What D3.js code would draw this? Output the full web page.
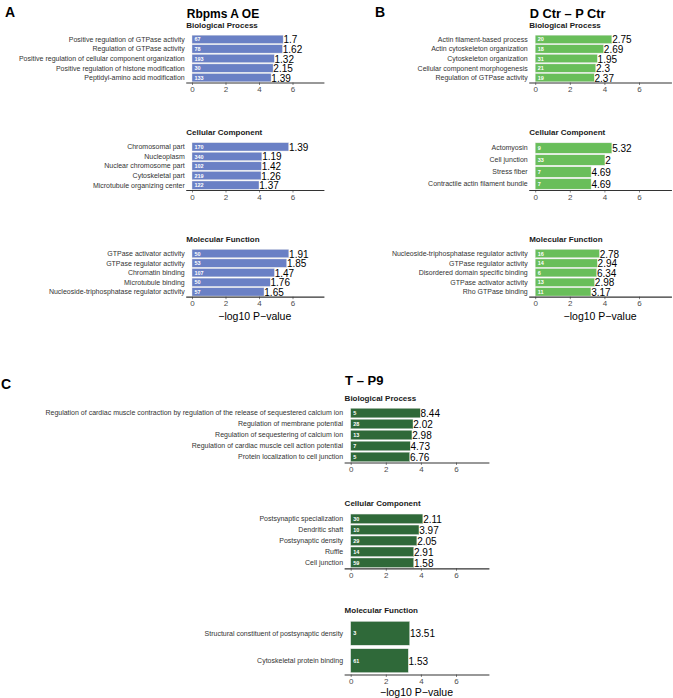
<!DOCTYPE html>
<html><head><meta charset="utf-8">
<script src="https://cdn.jsdelivr.net/npm/d3@7"></script>
<style>
body{margin:0;background:#fff}
svg{display:block;font-family:"Liberation Sans",Arial,Helvetica,sans-serif}
</style>
</head><body><svg id="chart" width="673" height="698"></svg>
<script>
// ---------------- data ----------------
const sectionNames = ["Biological Process", "Cellular Component", "Molecular Function"];
const xTicks = [0, 2, 4, 6];
const xDomain = [-0.375, 7.875];
const axisTitle = "\u2212log10 P\u2212value";

// Panel A: Rbpms A OE
const aBPTerms = ["Positive regulation of GTPase activity", "Regulation of GTPase activity", "Positive regulation of cellular component organization", "Positive regulation of histone modification", "Peptidyl-amino acid modification"];
const aBPCounts = [67, 78, 193, 30, 133];
const aBPLogP = [5.44, 5.40, 4.91, 4.84, 4.72];
const aBPFold = ["1.7", "1.62", "1.32", "2.15", "1.39"];

const aCCTerms = ["Chromosomal part", "Nucleoplasm", "Nuclear chromosome part", "Cytoskeletal part", "Microtubule organizing center"];
const aCCCounts = [170, 340, 102, 219, 122];
const aCCLogP = [5.77, 4.17, 4.14, 4.12, 4.00];
const aCCFold = ["1.39", "1.19", "1.42", "1.26", "1.37"];

const aMFTerms = ["GTPase activator activity", "GTPase regulator activity", "Chromatin binding", "Microtubule binding", "Nucleoside-triphosphatase regulator activity"];
const aMFCounts = [50, 53, 107, 50, 57];
const aMFLogP = [5.78, 5.65, 4.92, 4.67, 4.30];
const aMFFold = ["1.91", "1.85", "1.47", "1.76", "1.65"];

// Panel B: D Ctr – P Ctr
const bBPTerms = ["Actin filament-based process", "Actin cytoskeleton organization", "Cytoskeleton organization", "Cellular component morphogenesis", "Regulation of GTPase activity"];
const bBPCounts = [20, 18, 31, 21, 19];
const bBPLogP = [4.43, 3.95, 3.59, 3.50, 3.41];
const bBPFold = ["2.75", "2.69", "1.95", "2.3", "2.37"];

const bCCTerms = ["Actomyosin", "Cell junction", "Stress fiber", "Contractile actin filament bundle"];
const bCCCounts = [9, 33, 7, 7];
const bCCLogP = [4.43, 4.03, 3.23, 3.23];
const bCCFold = ["5.32", "2", "4.69", "4.69"];

const bMFTerms = ["Nucleoside-triphosphatase regulator activity", "GTPase regulator activity", "Disordered domain specific binding", "GTPase activator activity", "Rho GTPase binding"];
const bMFCounts = [16, 14, 6, 13, 11];
const bMFLogP = [3.71, 3.59, 3.55, 3.43, 3.22];
const bMFFold = ["2.78", "2.94", "6.34", "2.98", "3.17"];

// Panel C: T – P9
const cBPTerms = ["Regulation of cardiac muscle contraction by regulation of the release of sequestered calcium ion", "Regulation of membrane potential", "Regulation of sequestering of calcium ion", "Regulation of cardiac muscle cell action potential", "Protein localization to cell junction"];
const cBPCounts = [5, 28, 13, 7, 5];
const cBPLogP = [3.96, 3.55, 3.49, 3.39, 3.36];
const cBPFold = ["8.44", "2.02", "2.98", "4.73", "6.76"];

const cCCTerms = ["Postsynaptic specialization", "Dendritic shaft", "Postsynaptic density", "Ruffle", "Cell junction"];
const cCCCounts = [30, 10, 29, 14, 59];
const cCCLogP = [4.11, 3.89, 3.77, 3.59, 3.59];
const cCCFold = ["2.11", "3.97", "2.05", "2.91", "1.58"];

const cMFTerms = ["Structural constituent of postsynaptic density", "Cytoskeletal protein binding"];
const cMFCounts = [3, 61];
const cMFLogP = [3.36, 3.28];
const cMFFold = ["13.51", "1.53"];

// ---------------- layout ----------------
function sec(terms, counts, logp, fold) {
  return terms.map((t, i) => ({term: t, count: counts[i], v: logp[i], fold: fold[i]}));
}
const panels = [
  {letter: "A", title: "Rbpms A OE", titleSize: 12, color: "#6a80c5", x0: 192, k: 16.75,
   letterX: 5, letterY: 12, titleY: 14, axisYs: [82.5, 190, 296.7], region: 48, titleGap: 57.5, axisTitleGap: 19.5,
   sections: [sec(aBPTerms, aBPCounts, aBPLogP, aBPFold), sec(aCCTerms, aCCCounts, aCCLogP, aCCFold), sec(aMFTerms, aMFCounts, aMFLogP, aMFFold)]},
  {letter: "B", title: "D Ctr \u2013 P Ctr", titleSize: 12.8, color: "#69be5a", x0: 535.2, k: 17.3,
   letterX: 375, letterY: 12, titleY: 14, axisYs: [82.5, 190, 296.7], region: 48, titleGap: 57.5, axisTitleGap: 19.5,
   sections: [sec(bBPTerms, bBPCounts, bBPLogP, bBPFold), sec(bCCTerms, bCCCounts, bCCLogP, bCCFold), sec(bMFTerms, bMFCounts, bMFLogP, bMFFold)]},
  {letter: "C", title: "T \u2013 P9", titleSize: 13, color: "#2f6939", x0: 350.7, k: 17.55,
   letterX: 1, letterY: 384, titleY: 380.5, axisYs: [462.5, 568.3, 674.5], region: 55, titleGap: 64.8, axisTitleGap: 17.5,
   sections: [sec(cBPTerms, cBPCounts, cBPLogP, cBPFold), sec(cCCTerms, cCCCounts, cCCLogP, cCCFold), sec(cMFTerms, cMFCounts, cMFLogP, cMFFold)]}
];

// ---------------- draw ----------------
const svg = d3.select("#chart");
svg.append("rect").attr("width", 673).attr("height", 698).attr("fill", "#fff");

panels.forEach(p => {
  const g = svg.append("g");
  const x = d3.scaleLinear().domain(xDomain).range([p.x0 + xDomain[0] * p.k, p.x0 + xDomain[1] * p.k]);
  const r0 = x.range()[0];

  g.append("text").attr("x", p.letterX).attr("y", p.letterY).attr("dy", "0.35em")
    .attr("font-size", 14).attr("font-weight", "bold").attr("fill", "#000").text(p.letter);
  g.append("text").attr("x", r0 + 1).attr("y", p.titleY).attr("dy", "0.35em")
    .attr("font-size", p.titleSize).attr("font-weight", "bold").attr("fill", "#000").text(p.title);

  p.sections.forEach((data, si) => {
    const axisY = p.axisYs[si];
    const y = d3.scaleBand().domain(data.map(d => d.term))
      .range([axisY - p.region, axisY]).paddingInner(0.13).paddingOuter(0.07);
    const s = g.append("g");

    s.append("text").attr("x", r0 + 0.5).attr("y", axisY - p.titleGap).attr("dy", "0.35em")
      .attr("font-size", 8).attr("font-weight", "bold").attr("fill", "#1a1a1a").text(sectionNames[si]);

    s.selectAll("rect.bar").data(data).join("rect").attr("class", "bar")
      .attr("x", x(0)).attr("y", d => y(d.term))
      .attr("width", d => x(d.v) - x(0)).attr("height", y.bandwidth())
      .attr("fill", p.color).attr("stroke", "#e8e8e8").attr("stroke-width", 0.4);

    s.selectAll("text.term").data(data).join("text").attr("class", "term")
      .attr("x", r0 - 1).attr("y", d => y(d.term) + y.bandwidth() / 2).attr("dy", "0.35em")
      .attr("text-anchor", "end").attr("font-size", 7).attr("fill", "#333").text(d => d.term);

    s.selectAll("text.count").data(data).join("text").attr("class", "count")
      .attr("x", x(0) + 2.5).attr("y", d => y(d.term) + y.bandwidth() / 2).attr("dy", "0.38em")
      .attr("font-size", 5.5).attr("font-weight", "bold").attr("fill", "#fff").text(d => d.count);

    s.selectAll("text.fold").data(data).join("text").attr("class", "fold")
      .attr("x", d => x(d.v) + 0.3).attr("y", d => y(d.term) + y.bandwidth() / 2).attr("dy", "0.4em")
      .attr("font-size", 10).attr("fill", "#000").text(d => d.fold);

    const ax = s.append("g").attr("transform", `translate(0,${axisY})`)
      .call(d3.axisBottom(x).tickValues(xTicks).tickSize(2.5).tickSizeOuter(0).tickPadding(1.5));
    ax.select(".domain").attr("stroke", "#333").attr("stroke-width", 1.2);
    ax.selectAll(".tick line").attr("stroke", "#333").attr("stroke-width", 0.6);
    ax.selectAll(".tick text").attr("font-size", 8).attr("fill", "#4d4d4d")
      .attr("font-family", "\"Liberation Sans\",Arial,sans-serif");

    if (si === 2) {
      s.append("text").attr("x", (x.range()[0] + x.range()[1]) / 2).attr("y", axisY + p.axisTitleGap)
        .attr("dy", "0.35em").attr("text-anchor", "middle").attr("font-size", 10.5).attr("fill", "#000")
        .text(axisTitle);
    }
  });
});
</script>
</body></html>
